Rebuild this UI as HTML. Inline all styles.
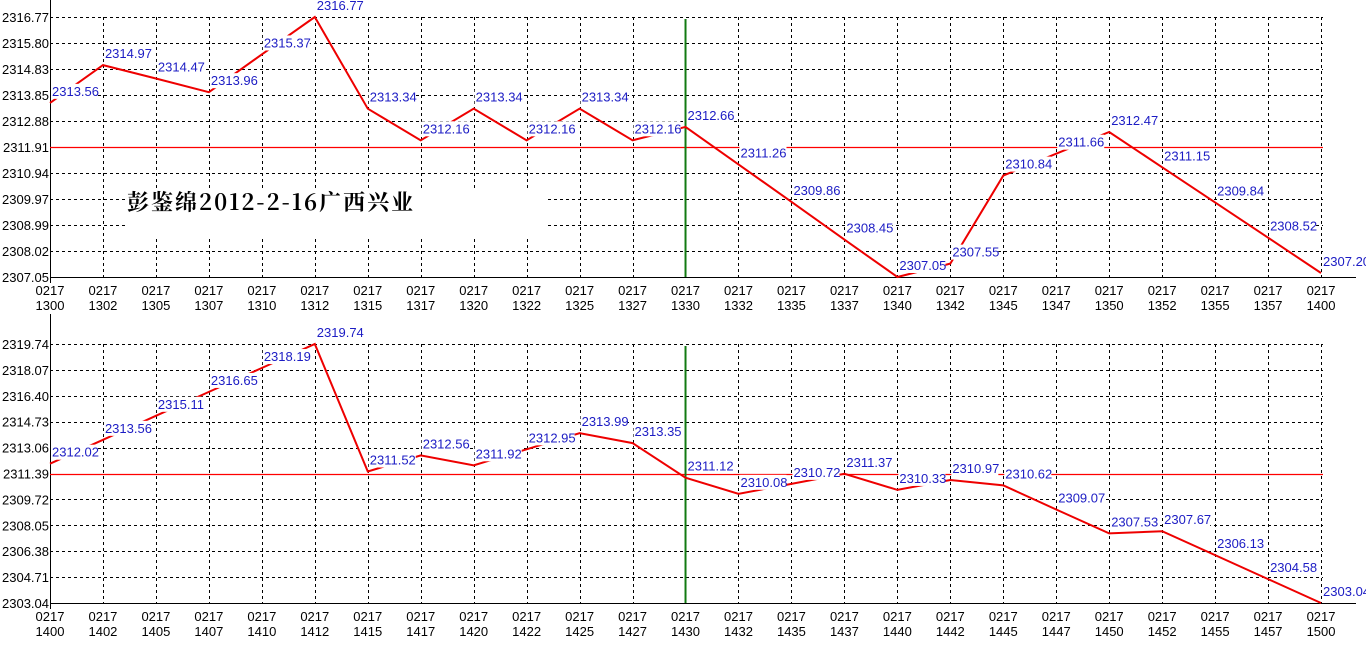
<!DOCTYPE html>
<html><head><meta charset="utf-8"><style>
html,body{margin:0;padding:0;background:#fff;}
svg{display:block;}
text{font-family:"Liberation Sans",Arial,sans-serif;font-size:13px;}
text.v{font-size:13px;}
</style></head><body>
<svg id="s" width="1366" height="654" xmlns="http://www.w3.org/2000/svg"></svg>
<script>
var s=document.getElementById('s'),h='';
var X0=50,DX=52.96;
function gx(i){return X0+i*DX;}
var times1=['1300','1302','1305','1307','1310','1312','1315','1317','1320','1322','1325','1327','1330','1332','1335','1337','1340','1342','1345','1347','1350','1352','1355','1357','1400'];
var times2=['1400','1402','1405','1407','1410','1412','1415','1417','1420','1422','1425','1427','1430','1432','1435','1437','1440','1442','1445','1447','1450','1452','1455','1457','1500'];
var top1=[2313.56,2314.97,2314.47,2313.96,2315.37,2316.77,2313.34,2312.16,2313.34,2312.16,2313.34,2312.16,2312.66,2311.26,2309.86,2308.45,2307.05,2307.55,2310.84,2311.66,2312.47,2311.15,2309.84,2308.52,2307.20];
var bot=[2312.02,2313.56,2315.11,2316.65,2318.19,2319.74,2311.52,2312.56,2311.92,2312.95,2313.99,2313.35,2311.12,2310.08,2310.72,2311.37,2310.33,2310.97,2310.62,2309.07,2307.53,2307.67,2306.13,2304.58,2303.04];
function chart(yt,yb,vmin,vmax,ylabels,times,data,hk,box){
  var H=yb-yt;
  function gy(v){return yb-(v-vmin)/(vmax-vmin)*H;}
  for(var k=1;k<ylabels.length;k++){
    if(k==hk) continue;
    var y=Math.round(yb-k*H/10)+0.5;
    h+='<line x1="50" y1="'+y+'" x2="1323" y2="'+y+'" stroke="#000" stroke-dasharray="3,3"/>';
  }
  for(var i=1;i<25;i++){
    var x=Math.round(gx(i))+0.5;
    if(i==12) continue;
    h+='<line x1="'+x+'" y1="'+yt+'" x2="'+x+'" y2="'+yb+'" stroke="#000" stroke-dasharray="3,3"/>';
  }
  if(box) h+='<rect x="126" y="188" width="420" height="48" fill="#fff"/>';
  for(var k=0;k<ylabels.length;k++){
    var y=yb-k*H/10;
    h+='<text x="49" y="'+(y+5)+'" text-anchor="end" fill="#000">'+ylabels[k]+'</text>';
  }
  for(var i=0;i<25;i++){
    var x=gx(i);
    h+='<text x="'+x+'" y="'+(yb+18)+'" text-anchor="middle">0217</text>';
    h+='<text x="'+x+'" y="'+(yb+33)+'" text-anchor="middle">'+times[i]+'</text>';
  }
  h+='<line x1="50.5" y1="'+(yt-30)+'" x2="50.5" y2="'+(yb+6)+'" stroke="#000"/>';
  h+='<line x1="50" y1="'+(yb+0.5)+'" x2="1356" y2="'+(yb+0.5)+'" stroke="#000"/>';
  var hy=Math.round(yb-hk*H/10)+0.5;
  h+='<line x1="50" y1="'+hy+'" x2="1323" y2="'+hy+'" stroke="#ff0000" stroke-width="1.2"/>';
  h+='<line x1="'+gx(12)+'" y1="'+(yt+2)+'" x2="'+gx(12)+'" y2="'+yb+'" stroke="#127a12" stroke-width="2"/>';
  var p='';
  for(var i=0;i<25;i++){p+=(i?'L':'M')+gx(i).toFixed(1)+' '+gy(data[i]).toFixed(1);}
  h+='<path d="'+p+'" fill="none" stroke="#ee0000" stroke-width="2"/>';
  for(var i=0;i<25;i++){
    var x=gx(i)+1,y=gy(data[i]);
    h+='<rect x="'+(x)+'" y="'+(y-19)+'" width="47" height="15" fill="#fff"/>';
    h+='<text class="v" x="'+(x+1)+'" y="'+(y-7)+'" fill="#1c1cc4">'+data[i].toFixed(2)+'</text>';
  }
}
chart(17,277,2307.05,2316.77,['2307.05','2308.02','2308.99','2309.97','2310.94','2311.91','2312.88','2313.85','2314.83','2315.80','2316.77'],times1,top1,5,true);
chart(344,603,2303.04,2319.74,['2303.04','2304.71','2306.38','2308.05','2309.72','2311.39','2313.06','2314.73','2316.40','2318.07','2319.74'],times2,bot,5,false);
h+='<text x="127" y="210" style="font-family:\'Noto Serif CJK SC\',\'Liberation Serif\',serif;font-size:22px;font-weight:bold;letter-spacing:2px" fill="#000">彭鉴绵2012-2-16广西兴业</text>';
s.innerHTML=h;
</script>
</body></html>
